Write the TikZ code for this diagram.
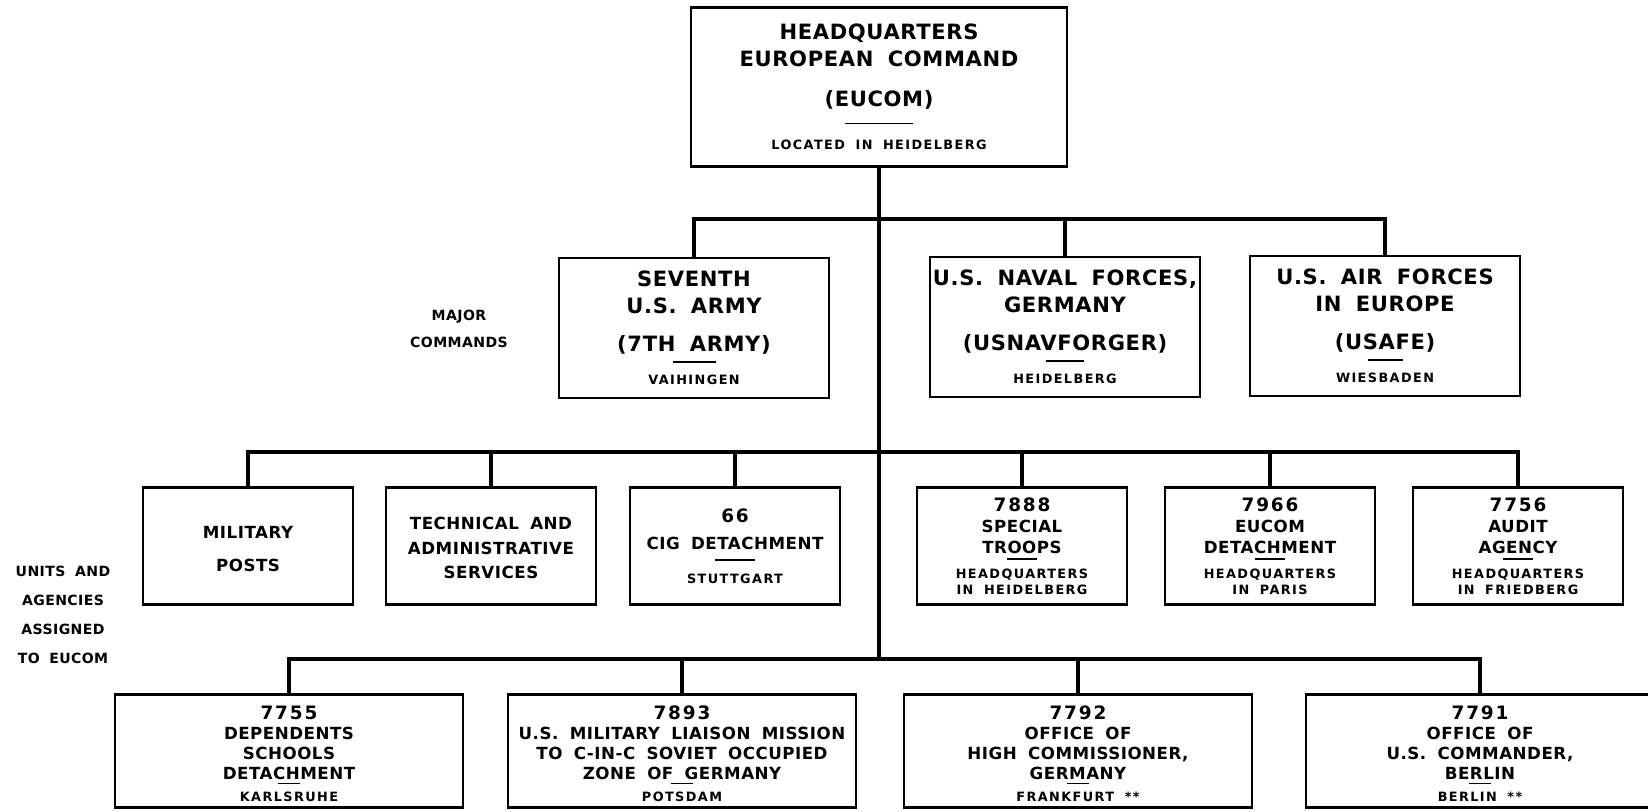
\documentclass[tikz,border=0pt]{standalone}
\usepackage{fontspec}
\setmainfont{DejaVu Sans}[WordSpace=1.8,LetterSpace=3]
\usetikzlibrary{positioning}
\newcommand{\bigtxt}{\fontsize{12}{14}\selectfont\bfseries}
\newcommand{\midtxt}{\fontsize{9.5}{11.4}\selectfont\bfseries}
\newcommand{\numtxt}{\fontsize{10.5}{11.4}\selectfont\addfontfeature{LetterSpace=10}}
\newcommand{\loctxt}{\fontsize{7.3}{9}\selectfont\bfseries\addfontfeature{LetterSpace=11}}
\newsavebox{\placebox}
\newcommand{\place}[3]{{\loctxt\sbox{\placebox}{#3}\rlap{\makebox[\wd\placebox]{\raisebox{#1}[0pt][0pt]{\rule{#2}{0.8pt}}}}\usebox{\placebox}}}
\tikzset{
    unit/.style={draw, line width=1.6pt, inner sep=0pt, align=center},
    hqbox/.style={unit, font=\bigtxt, minimum width=7.52cm, minimum height=3.18cm},
    majorbox/.style={unit, font=\bigtxt, minimum width=5.4cm, minimum height=2.8cm},
    agencybox/.style={unit, font=\midtxt, minimum width=4.2cm, minimum height=2.34cm},
    lowerbox/.style={unit, font=\midtxt, minimum width=6.96cm, minimum height=2.26cm},
    sidelabel/.style={font=\fontsize{8}{15.4}\selectfont\bfseries, align=center, inner sep=0pt},
    link/.style={line width=2.4pt}
}

\begin{document}
\begin{tikzpicture}[x=0.02cm, y=-0.02cm]
\useasboundingbox (0,0) rectangle (1648,811);
\clip (0,0) rectangle (1648,811);
\node[hqbox] (hq) at (879,87) {HEADQUARTERS\\[1.4pt] EUROPEAN COMMAND\\[8.8pt] (EUCOM)\\[10.5pt] \place{14.5pt}{1.36cm}{LOCATED IN HEIDELBERG}};
\coordinate (b1) at (879,219);
\coordinate (b2) at (879,452);
\coordinate (b3) at (879,659);
% major commands
\node[majorbox] (army) at (694,328) {SEVENTH\\[1pt] U.S. ARMY\\[7.5pt] (7TH ARMY)\\[5pt] \place{12.5pt}{0.86cm}{VAIHINGEN}};
\node[majorbox] (navy) at (1065,327) {U.S. NAVAL FORCES,\\[1pt] GERMANY\\[7.5pt] (USNAVFORGER)\\[5pt] \place{12.5pt}{0.76cm}{HEIDELBERG}};
\node[majorbox] (usafe) at (1385,326) {U.S. AIR FORCES\\[1pt] IN EUROPE\\[7.5pt] (USAFE)\\[5pt] \place{12.5pt}{0.7cm}{WIESBADEN}};
\node[sidelabel] (major) at (459,329) {MAJOR\\COMMANDS};
% units and agencies
\node[agencybox] (posts) at (248,546) {\rule{0pt}{10.5pt}MILITARY\\[7.5pt] POSTS};
\node[agencybox] (tas) at (491,546) {\rule{0pt}{9.5pt}TECHNICAL AND\\[3pt] ADMINISTRATIVE\\[2.3pt] SERVICES};
\node[agencybox] (cic) at (735,546) {{\numtxt 66}\\[4pt] CIG DETACHMENT\\[8pt] \place{12.8pt}{0.8cm}{STUTTGART}};
\node[agencybox] (troops) at (1022,546) {{\numtxt 7888}\\[1pt] SPECIAL\\ TROOPS\\[3pt] \place{10.5pt}{0.6cm}{HEADQUARTERS}\\[-2.3pt] {\loctxt IN HEIDELBERG}};
\node[agencybox] (eucomdet) at (1270,546) {{\numtxt 7966}\\[1pt] EUCOM\\ DETACHMENT\\[3pt] \place{10.5pt}{0.6cm}{HEADQUARTERS}\\[-2.3pt] {\loctxt IN PARIS}};
\node[agencybox] (audit) at (1518,546) {{\numtxt 7756}\\[1pt] AUDIT\\ AGENCY\\[3pt] \place{10.5pt}{0.6cm}{HEADQUARTERS}\\[-2.3pt] {\loctxt IN FRIEDBERG}};
\node[sidelabel] (units) at (63,615) {UNITS AND\\[1pt] AGENCIES\\[1pt] ASSIGNED\\[1pt] TO EUCOM};
\node[lowerbox] (schools) at (289,751) {\rule{0pt}{10.5pt}{\numtxt 7755}\\ DEPENDENTS\\ SCHOOLS\\ DETACHMENT\\[1.1pt] \place{9.7pt}{0.45cm}{KARLSRUHE}};
\node[lowerbox] (liaison) at (682,751) {\rule{0pt}{10.5pt}{\numtxt 7893}\\ U.S. MILITARY LIAISON MISSION\\ TO C-IN-C SOVIET OCCUPIED\\ ZONE OF GERMANY\\[1.1pt] \place{9.7pt}{0.45cm}{POTSDAM}};
\node[lowerbox] (hicog) at (1078,751) {\rule{0pt}{10.5pt}{\numtxt 7792}\\ OFFICE OF\\ HIGH COMMISSIONER,\\ GERMANY\\[1.1pt] \place{9.7pt}{0.45cm}{FRANKFURT **}};
\node[lowerbox] (berlin) at (1480,751) {\rule{0pt}{10.5pt}{\numtxt 7791}\\ OFFICE OF\\ U.S. COMMANDER,\\ BERLIN\\[1.1pt] \place{9.7pt}{0.45cm}{BERLIN **}};
% connectors
\draw[link] (hq.south) -- (b3);
\foreach \n in {army,navy,usafe} \draw[link] (\n.north) |- (b1);
\foreach \n in {posts,tas,cic,troops,eucomdet,audit} \draw[link] (\n.north) |- (b2);
\foreach \n in {schools,liaison,hicog,berlin} \draw[link] (\n.north) |- (b3);
\end{tikzpicture}
\end{document}
